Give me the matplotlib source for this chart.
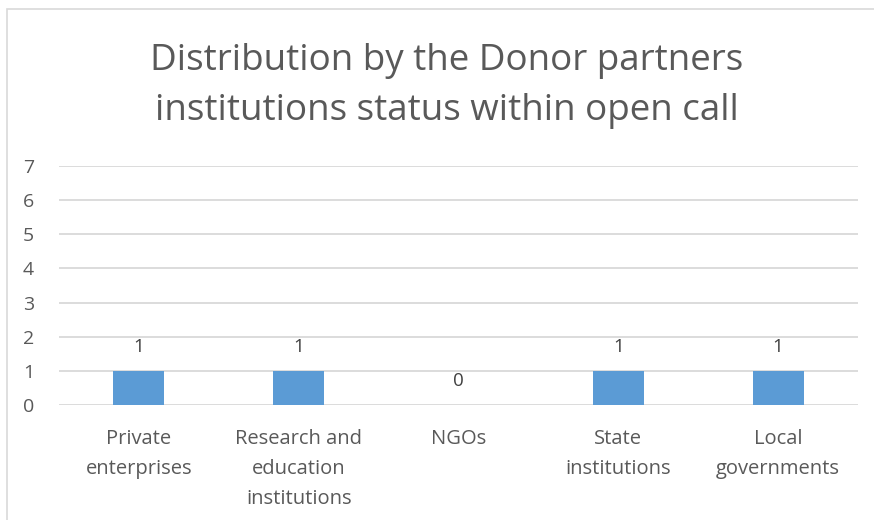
import matplotlib.pyplot as plt
from matplotlib.patches import Rectangle

categories = ["Private\nenterprises", "Research and\neducation\ninstitutions",
              "NGOs", "State\ninstitutions", "Local\ngovernments"]
values = [1, 1, 0, 1, 1]
yticks = [0, 1, 2, 3, 4, 5, 6, 7]

text_color = "#595959"
plt.rcParams['font.family'] = ['Open Sans', 'DejaVu Sans']

fig = plt.figure(figsize=(8.74, 5.2), dpi=100)
ax = fig.add_axes([59 / 874, 1 - 405 / 520, (858 - 59) / 874, (405 - 166) / 520])

x = range(len(categories))
bars = ax.bar(x, values, width=0.32, color="#5B9BD5", zorder=3)
for xi, v in zip(x, values):
    ax.annotate(str(v), (xi, v), xytext=(0, 17.5), textcoords="offset points",
                ha="center", va="center", fontsize=13.5, color="#404040")

ax.set_xlim(-0.5, len(categories) - 0.5)
ax.set_ylim(0, 7)
ax.set_yticks(yticks)
ax.set_xticks(list(x))
ax.set_xticklabels(categories, linespacing=1.68)
ax.tick_params(axis="y", length=0, pad=18, labelsize=14, labelcolor=text_color)
ax.tick_params(axis="x", length=0, pad=17, labelsize=14.5, labelcolor=text_color)
ax.grid(axis="y", color="#D9D9D9", linewidth=1.3, zorder=0)
for s in ax.spines.values():
    s.set_visible(False)

fig.text(447 / 874, 1 - 86 / 520, "Distribution by the Donor partners\ninstitutions status within open call",
         ha="center", va="center", fontsize=26.5, color=text_color, linespacing=1.55)

fig.patches.append(Rectangle((7 / 874, -0.1), 1.2, 1 - 9 / 520 + 0.1, transform=fig.transFigure,
                             fill=False, edgecolor="#D9D9D9", linewidth=1.2))

fig.savefig("out.png", dpi=100)
